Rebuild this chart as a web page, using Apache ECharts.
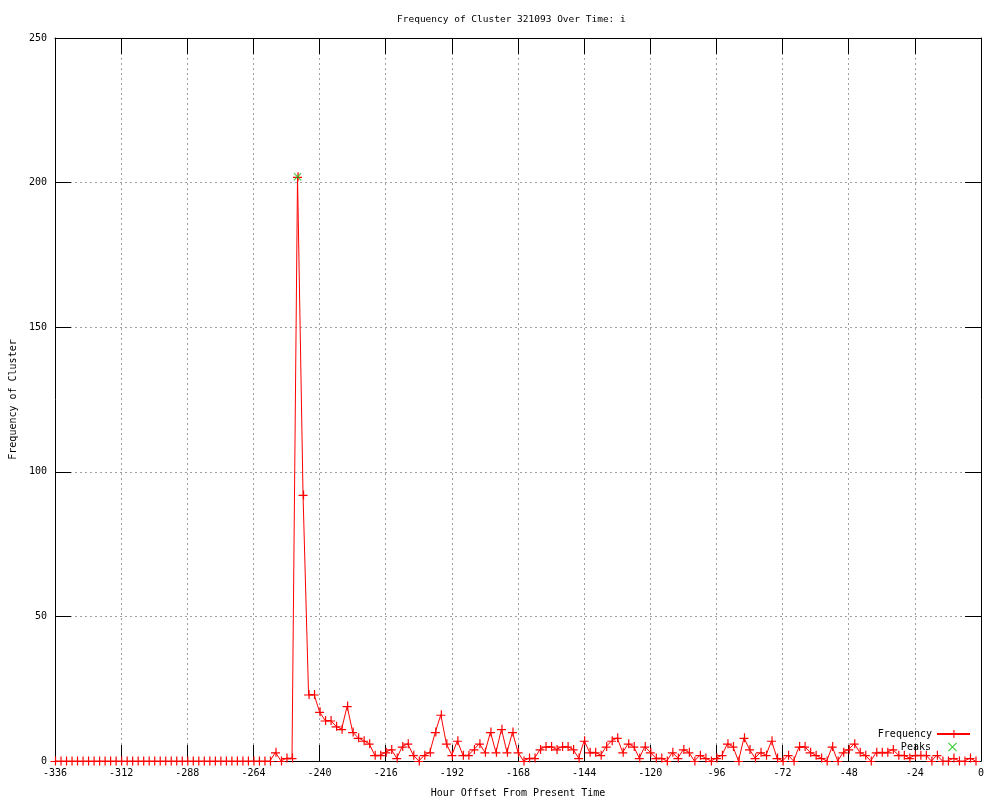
<!DOCTYPE html>
<html>
<head>
<meta charset="utf-8">
<script src="https://cdn.jsdelivr.net/npm/echarts@6/dist/echarts.min.js"></script>
<style>html,body{margin:0;padding:0;background:#fff;}#chart{width:1000px;height:800px;}</style>
</head>
<body>
<div id="chart"></div>
<script>
// Hour offsets (every 2 hours)
const hours = [
  -336,-334,-332,-330,-328,-326,-324,-322,-320,-318,
  -316,-314,-312,-310,-308,-306,-304,-302,-300,-298,
  -296,-294,-292,-290,-288,-286,-284,-282,-280,-278,
  -276,-274,-272,-270,-268,-266,-264,-262,-260,-258,
  -256,-254,-252,-250,-248,-246,-244,-242,-240,-238,
  -236,-234,-232,-230,-228,-226,-224,-222,-220,-218,
  -216,-214,-212,-210,-208,-206,-204,-202,-200,-198,
  -196,-194,-192,-190,-188,-186,-184,-182,-180,-178,
  -176,-174,-172,-170,-168,-166,-164,-162,-160,-158,
  -156,-154,-152,-150,-148,-146,-144,-142,-140,-138,
  -136,-134,-132,-130,-128,-126,-124,-122,-120,-118,
  -116,-114,-112,-110,-108,-106,-104,-102,-100,-98,
  -96,-94,-92,-90,-88,-86,-84,-82,-80,-78,
  -76,-74,-72,-70,-68,-66,-64,-62,-60,-58,
  -56,-54,-52,-50,-48,-46,-44,-42,-40,-38,
  -36,-34,-32,-30,-28,-26,-24,-22,-20,-18,
  -16,-14,-12,-10,-8,-6,-4,-2
];
const frequency = [
  0,0,0,0,0,0,0,0,0,0,
  0,0,0,0,0,0,0,0,0,0,
  0,0,0,0,0,0,0,0,0,0,
  0,0,0,0,0,0,0,0,0,0,
  3,0,1,1,202,92,23,23,17,14,
  14,12,11,19,10,8,7,6,2,2,
  3,4,1,5,6,2,0,2,3,10,
  16,6,2,7,2,2,4,6,3,10,
  3,11,3,10,3,0,1,1,4,5,
  5,4,5,5,4,1,7,3,3,2,
  5,7,8,3,6,5,1,5,3,1,
  1,0,3,1,4,3,0,2,1,0,
  1,2,6,5,0,8,4,1,3,2,
  7,1,0,2,0,5,5,3,2,1,
  0,5,0,3,4,6,3,2,0,3,
  3,3,4,2,2,1,2,2,2,0,
  2,0,0,1,0,0,1,0
];
const peakHours = [-248];
const peakValues = [202];
const xTicks = { min: -336, max: 0, interval: 24 };
const yTicks = { min: 0, max: 250, interval: 50 };

const FONT = 'DejaVu Sans Mono';
const plusPath = 'path://M0,4.4H9V5.6H0Z M4.4,0H5.6V9H4.4Z';
const crossPath = 'path://M0,0.8L0.8,0L9,8.2L8.2,9Z M8.2,0L9,0.8L0.8,9L0,8.2Z';

const freqData = hours.map((h, i) => [h, frequency[i]]);
const peakData = peakHours.map((h, i) => [h, peakValues[i]]);

const gridDash = { color: '#a0a0a0', width: 1, type: [2, 3] };
const black = '#000';

const chart = echarts.init(document.getElementById('chart'), null, { renderer: 'canvas' });
chart.setOption({
  animation: false,
  backgroundColor: '#fff',
  title: {
    text: 'Frequency of Cluster 321093 Over Time: i',
    left: 392, top: 10,
    textStyle: { fontFamily: FONT, fontSize: 9.5, fontWeight: 'normal', color: black }
  },
  grid: { left: 55, right: 19, top: 38, bottom: 39, containLabel: false, outerBoundsMode: 'none' },
  legend: [
    {
      data: ['Frequency'], right: 24, top: 724, align: 'right', orient: 'vertical',
      itemWidth: 33, itemHeight: 10,
      textStyle: { fontFamily: FONT, fontSize: 10, color: black }
    },
    {
      data: ['Peaks'], right: 38, top: 737, align: 'right', orient: 'vertical',
      itemWidth: 9, itemHeight: 9, icon: crossPath,
      formatter: function (name) { return name + '  '; },
      textStyle: { fontFamily: FONT, fontSize: 10, color: black }
    }
  ],
  xAxis: [
    {
      type: 'value', position: 'bottom', min: xTicks.min, max: xTicks.max, interval: xTicks.interval,
      name: 'Hour Offset From Present Time', nameLocation: 'middle', nameGap: 27,
      nameTextStyle: { fontFamily: FONT, fontSize: 10, color: black },
      axisLine: { show: true, onZero: false, lineStyle: { color: black, width: 1 } },
      axisTick: { show: true, inside: true, length: 16, lineStyle: { color: black } },
      axisLabel: { fontFamily: FONT, fontSize: 10, color: black, margin: 7 },
      splitLine: { show: true, lineStyle: gridDash }
    },
    {
      type: 'value', position: 'top', min: xTicks.min, max: xTicks.max, interval: xTicks.interval,
      axisLine: { show: true, onZero: false, lineStyle: { color: black, width: 1 } },
      axisTick: { show: true, inside: true, length: 16, lineStyle: { color: black } },
      axisLabel: { show: false },
      splitLine: { show: false }
    }
  ],
  yAxis: [
    {
      type: 'value', position: 'left', min: yTicks.min, max: yTicks.max, interval: yTicks.interval,
      name: 'Frequency of Cluster', nameLocation: 'middle', nameGap: 37,
      nameTextStyle: { fontFamily: FONT, fontSize: 10, color: black },
      axisLine: { show: true, onZero: false, lineStyle: { color: black, width: 1 } },
      axisTick: { show: true, inside: true, length: 16, lineStyle: { color: black } },
      axisLabel: { fontFamily: FONT, fontSize: 10, color: black, margin: 8 },
      splitLine: { show: true, lineStyle: gridDash }
    },
    {
      type: 'value', position: 'right', min: yTicks.min, max: yTicks.max, interval: yTicks.interval,
      axisLine: { show: true, onZero: false, lineStyle: { color: black, width: 1 } },
      axisTick: { show: true, inside: true, length: 16, lineStyle: { color: black } },
      axisLabel: { show: false },
      splitLine: { show: false }
    }
  ],
  series: [
    {
      name: 'Frequency', type: 'line', xAxisIndex: 0, yAxisIndex: 0,
      data: freqData, showAllSymbol: true,
      symbol: plusPath, symbolSize: 9,
      lineStyle: { color: '#ff0000', width: 1 },
      itemStyle: { color: '#ff0000', borderWidth: 0 },
      z: 3
    },
    {
      name: 'Peaks', type: 'scatter', xAxisIndex: 0, yAxisIndex: 0,
      data: peakData, symbol: crossPath, symbolSize: 8, symbolKeepAspect: true,
      itemStyle: { color: '#00c000', borderWidth: 0 },
      z: 4
    }
  ]
});
</script>
</body>
</html>
